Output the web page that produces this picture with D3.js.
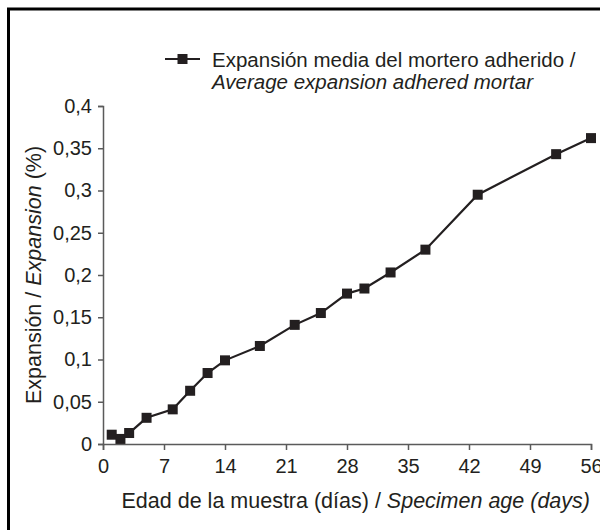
<!DOCTYPE html>
<html>
<head>
<meta charset="utf-8">
<script src="https://cdn.jsdelivr.net/npm/d3@7"></script>
<style>
  body { margin: 0; background: #fff; }
  svg text { font-family: "Liberation Sans", Arial, sans-serif; fill: #231f20; }
  .axis path, .axis line { stroke: #5a5a5a; stroke-width: 1.5; }
  .axis text { font-size: 20px; }
</style>
</head>
<body>
<div id="chart"></div>
<script>
// Data
var days = [1, 2, 3, 5, 8, 10, 12, 14, 18, 22, 25, 28, 30, 33, 37, 43, 52, 56];
var expansion = [0.011, 0.006, 0.013, 0.031, 0.041, 0.063, 0.084, 0.099, 0.116, 0.141,
  0.155, 0.178, 0.184, 0.203, 0.230, 0.295, 0.343, 0.362];
var xTicks = [0, 7, 14, 21, 28, 35, 42, 49, 56];
var yTicks = [0, 0.05, 0.1, 0.15, 0.2, 0.25, 0.3, 0.35, 0.4];
var legendLines = ["Expansión media del mortero adherido /", "Average expansion adhered mortar"];

var svgWidth = 600;
var svgHeight = 530;

var margin = { top: 106, right: 9, bottom: 86, left: 103 };
var width = svgWidth - margin.left - margin.right;
var height = svgHeight - margin.top - margin.bottom;

var svg = d3.select('#chart')
  .append('svg')
  .attr('width', svgWidth)
  .attr('height', svgHeight);

// outer frame (right and bottom edges fall outside the picture)
svg.append('rect')
  .attr('x', 8.5)
  .attr('y', 9)
  .attr('width', 700)
  .attr('height', 700)
  .attr('fill', 'none')
  .attr('stroke', '#000')
  .attr('stroke-width', 3);

var chartGroup = svg.append('g')
  .attr('transform', `translate(${margin.left}, ${margin.top})`);

var xScale = d3.scaleLinear().domain([0, 56]).range([0, width]);
var yScale = d3.scaleLinear().domain([0, 0.4]).range([height, 0]);

var fmt = function(v) { return String(+v.toFixed(2)).replace('.', ','); };

var bottomAxis = d3.axisBottom(xScale)
  .tickValues(xTicks)
  .tickSizeOuter(0)
  .tickSize(6)
  .tickPadding(9);

var leftAxis = d3.axisLeft(yScale)
  .tickValues(yTicks)
  .tickFormat(fmt)
  .tickSizeOuter(0)
  .tickSize(5)
  .tickPadding(6);

chartGroup.append('g')
  .attr('class', 'axis')
  .call(leftAxis);

chartGroup.append('g')
  .attr('class', 'axis')
  .attr('transform', `translate(0, ${height})`)
  .call(bottomAxis);

chartGroup.selectAll('.axis text').attr('fill', '#231f20');

var data = days.map(function(d, i) { return { day: d, value: expansion[i] }; });

var line = d3.line()
  .x(d => xScale(d.day))
  .y(d => yScale(d.value));

chartGroup.append('path')
  .datum(data)
  .attr('d', line)
  .attr('fill', 'none')
  .attr('stroke', '#231f20')
  .attr('stroke-width', 2.2);

var sq = 10;
chartGroup.selectAll('rect.pt')
  .data(data)
  .enter()
  .append('rect')
  .attr('class', 'pt')
  .attr('x', d => xScale(d.day) - sq / 2)
  .attr('y', d => yScale(d.value) - sq / 2)
  .attr('width', sq)
  .attr('height', sq)
  .attr('fill', '#231f20');

// Axis titles
var yTitle = svg.append('text')
  .attr('transform', `translate(41, ${margin.top + height / 2}) rotate(-90)`)
  .attr('text-anchor', 'middle')
  .style('font-size', '21.5px');
yTitle.append('tspan').text('Expansión / ');
yTitle.append('tspan').style('font-style', 'italic').text('Expansion');
yTitle.append('tspan').text(' (%)');

var xTitle = svg.append('text')
  .attr('x', 590)
  .attr('y', 508)
  .attr('text-anchor', 'end')
  .style('font-size', '21.5px');
xTitle.append('tspan').text('Edad de la muestra (días) / ');
xTitle.append('tspan').style('font-style', 'italic').text('Specimen age (days)');

// Legend
var legend = svg.append('g').attr('transform', 'translate(165, 59)');
legend.append('line')
  .attr('x1', 0).attr('x2', 35)
  .attr('y1', 0).attr('y2', 0)
  .attr('stroke', '#231f20')
  .attr('stroke-width', 2);
legend.append('rect')
  .attr('x', 17.5 - sq / 2).attr('y', -sq / 2)
  .attr('width', sq).attr('height', sq)
  .attr('fill', '#231f20');
legend.append('text')
  .attr('x', 47).attr('y', 8)
  .style('font-size', '20.5px')
  .text(legendLines[0]);
legend.append('text')
  .attr('x', 47).attr('y', 30)
  .style('font-size', '20.5px')
  .style('font-style', 'italic')
  .text(legendLines[1]);
</script>
</body>
</html>
